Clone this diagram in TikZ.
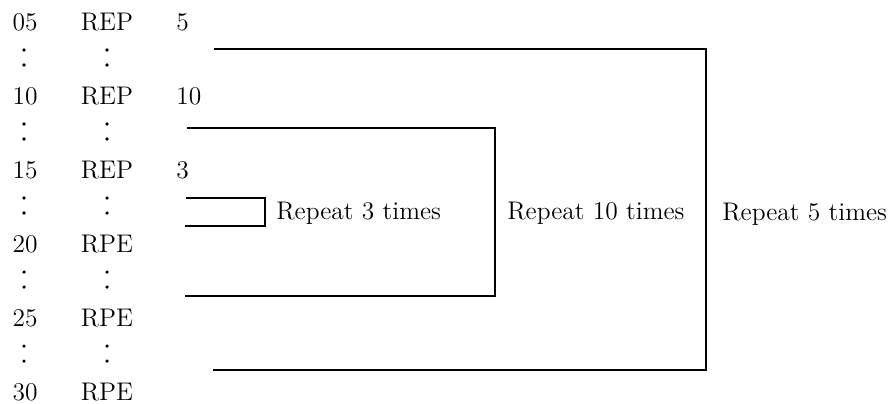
\documentclass[tikz,border=0pt]{standalone}
\usetikzlibrary{calc}

\begin{document}
\begin{tikzpicture}[x=0.02cm, y=-0.02cm,
	txt/.style={inner sep=0pt, anchor=base, font=\fontsize{14.5}{17}\selectfont},
	brk/.style={line width=1.1pt}]
	\useasboundingbox (0,0) rectangle (889,403);
	
	%rows
	\foreach \n/\c/\y in {05/REP/30, 10/REP/104, 15/REP/178, 20/RPE/252, 25/RPE/326, 30/RPE/400}
		{\node[txt] (num\n) at (25,\y) {\n}; \node[txt] (cmd\n) at (107,\y) {\c};}
	\node[txt, anchor=base west] (cnt05) at (176,30) {5};
	\node[txt, anchor=base west] (cnt10) at (176,104) {10};
	\node[txt, anchor=base west] (cnt15) at (176,178) {3};
	
	%dots
	\foreach \y in {30,104,178,252,326}
		{\fill (24,\y+20) circle (1pt) (24,\y+35) circle (1pt);
		\fill (107,\y+20) circle (1pt) (107,\y+35) circle (1pt);}
	
	%brackets
	\coordinate (t5) at (214,49); \coordinate (r5) at (706,213); \coordinate (b5) at (213,370);
	\coordinate (t10) at (187,128); \coordinate (r10) at (495,213); \coordinate (b10) at (185,296);
	\coordinate (t3) at (186,198); \coordinate (r3) at (265,212); \coordinate (b3) at (185,226);
	\draw[brk] (t5) -| (r5) |- (b5);
	\draw[brk] (t10) -| (r10) |- (b10);
	\draw[brk] (t3) -| (r3) |- (b3);
	\node[txt, anchor=base west] (rep3) at (276,219) {Repeat 3 times};
	\node[txt, anchor=base west] (rep10) at (507,219) {Repeat 10 times};
	\node[txt, anchor=base west] (rep5) at (722,220) {Repeat 5 times};
\end{tikzpicture}
\end{document}
